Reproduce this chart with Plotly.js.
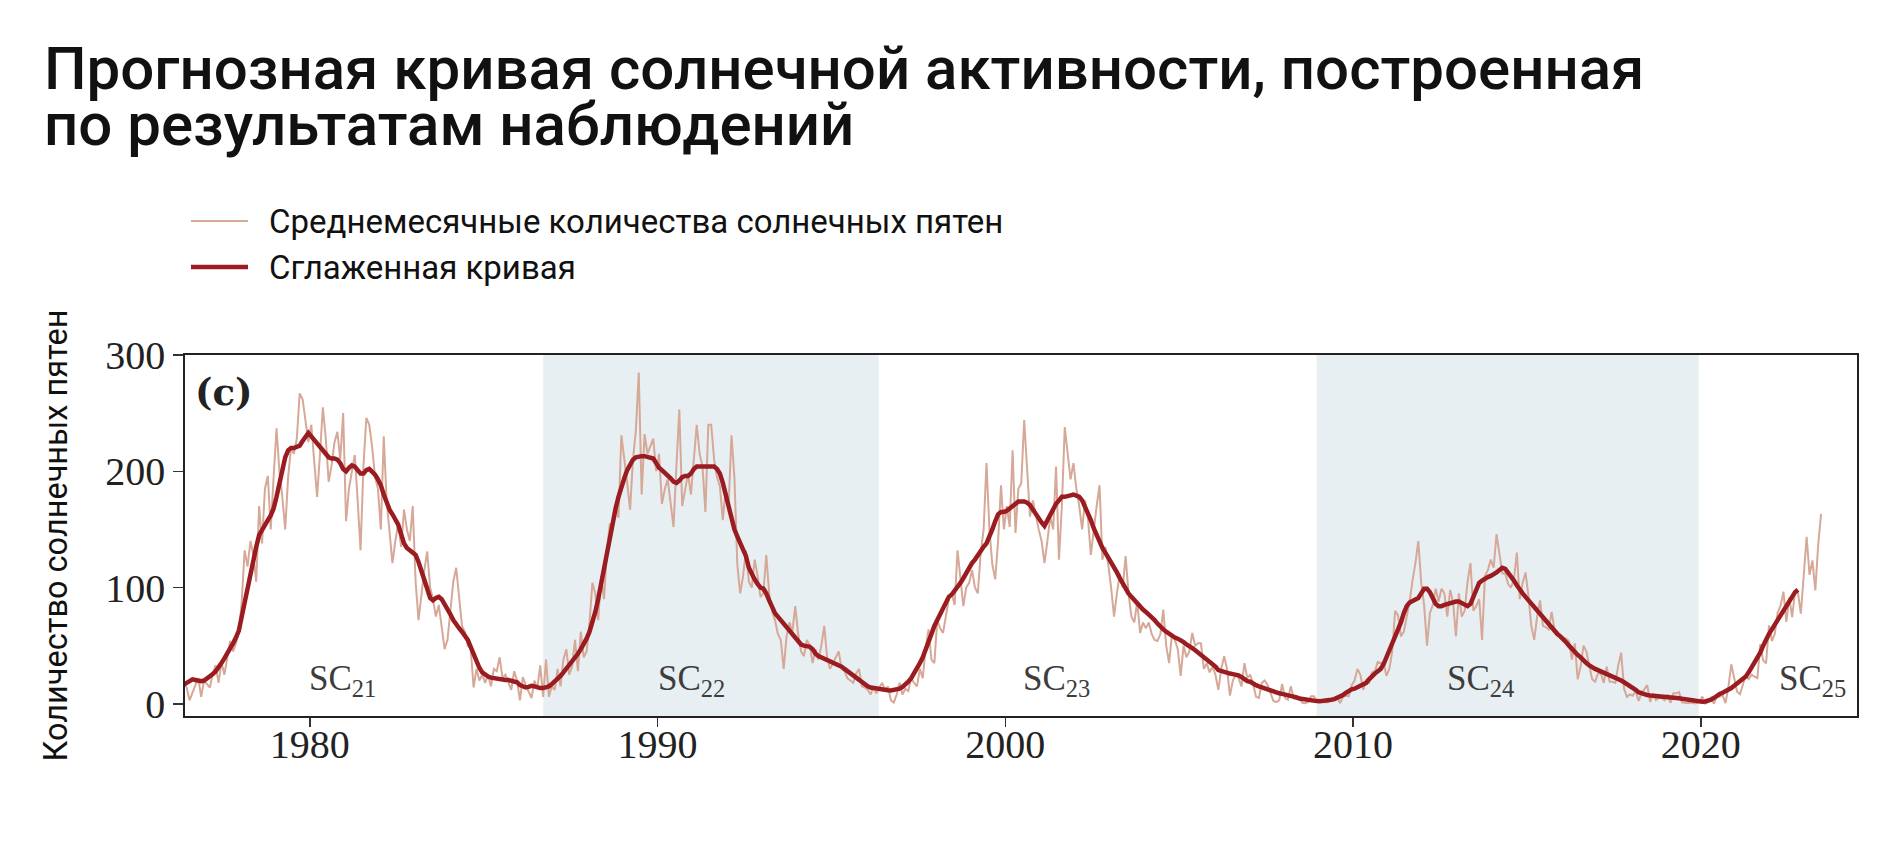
<!DOCTYPE html>
<html>
<head>
<meta charset="utf-8">
<script src="https://cdn.plot.ly/plotly-3.0.1.min.js"></script>
<style>html,body{margin:0;padding:0;background:#fff;}#chart{width:1877px;height:850px;}</style>
</head>
<body>
<div id="chart"></div>
<script>
// Monthly mean sunspot numbers, Jan 1976 onwards (one row per year)
const monthly1976_1985 = [
  5, 12, 28, 30, 18, 14, 3, 10, 16, 22, 6, 20,
  17, 14, 26, 33, 18, 36, 25, 38, 54, 45, 52, 62,
  88, 132, 118, 140, 128, 105, 170, 138, 185, 196, 150, 195,
  237, 200, 178, 150, 195, 220, 215, 228, 267, 262, 245, 225,
  240, 210, 178, 215, 255, 228, 191, 205, 225, 234, 210, 250,
  157, 185, 200, 214, 175, 132, 205, 246, 240, 221, 195, 185,
  150, 230, 175, 150, 121, 140, 155, 135, 167, 150, 140, 170,
  105, 72, 95, 115, 131, 100, 90, 75, 85, 65, 47, 55,
  80, 105, 117, 90, 67, 62, 50, 48, 14, 30, 20, 25,
  18, 25, 15, 30, 28, 40, 22, 25, 18, 12, 28, 20
];
const monthly1986_1995 = [
  3, 23, 16, 10, 5, 20, 13, 33, 6, 38, 6, 15,
  12, 30, 15, 38, 47, 25, 32, 55, 28, 62, 40, 45,
  70, 104, 95, 72, 110, 90, 130, 155, 150, 170, 160, 231,
  212, 190, 167, 210, 235, 285, 180, 232, 215, 221, 228, 200,
  215, 172, 185, 193, 170, 152, 205, 253, 170, 185, 198, 180,
  210, 240, 215, 204, 165, 240, 240, 210, 195, 187, 158, 185,
  170, 231, 195, 120, 95, 110, 132, 105, 100, 124, 110, 92,
  95, 128, 95, 80, 72, 60, 55, 30, 58, 70, 62, 84,
  60, 45, 41, 55, 50, 35, 47, 38, 50, 67, 40, 30,
  35, 40, 45, 30, 28, 22, 20, 18, 26, 30, 15, 14
];
const monthly1996_2005 = [
  12, 8, 14, 9, 14, 18, 12, 15, 3, 1, 8, 18,
  8, 13, 11, 22, 18, 15, 30, 22, 48, 64, 38, 35,
  72, 65, 61, 75, 90, 95, 85, 132, 110, 84, 100, 104,
  115, 100, 95, 130, 150, 207, 150, 120, 107, 140, 188, 150,
  170, 152, 218, 147, 185, 190, 244, 200, 161, 175, 161, 150,
  140, 121, 140, 161, 150, 204, 124, 170, 238, 215, 193, 207,
  185, 170, 150, 175, 160, 128, 150, 170, 188, 124, 135, 120,
  100, 75, 95, 112, 100, 127, 95, 75, 70, 88, 61, 70,
  65, 70, 60, 55, 54, 60, 81, 50, 35, 60, 55, 47,
  24, 50, 40, 45, 61, 50, 52, 52, 30, 35, 27, 32
];
const monthly2006_2015 = [
  25, 12, 30, 41, 30, 7, 20, 25, 22, 15, 35, 22,
  25, 17, 6, 5, 18, 20, 16, 10, 2.5, 1.5, 3, 17,
  5, 3.5, 15, 4.5, 4, 4.5, 0.8, 0.5, 1.5, 6.5, 6.5, 1.5,
  2.5, 2.2, 1.2, 1.5, 4, 4.5, 5.5, 0.5, 6, 7, 6.5, 16,
  20, 30, 25, 12, 20, 18, 27, 28, 36, 35, 36, 24,
  30, 45, 80, 76, 58, 62, 75, 88, 106, 121, 140, 104,
  85, 50, 78, 85, 99, 88, 99, 95, 75, 98, 87, 58,
  95, 75, 80, 105, 121, 80, 84, 90, 55, 110, 115, 124,
  117, 146, 129, 112, 112, 103, 100, 107, 130, 90, 104, 113,
  93, 67, 55, 75, 89, 67, 66, 64, 79, 64, 62, 58
];
const monthly2016_2023 = [
  57, 56, 54, 38, 52, 21, 32, 50, 45, 33, 21, 19,
  26, 26, 18, 32, 19, 19, 18, 33, 44, 13, 6, 8,
  7, 11, 2.5, 9, 13, 16, 1.6, 9, 3.3, 5, 5, 3,
  8, 0.8, 9, 9, 10, 1.2, 0.9, 0.5, 1.1, 0.4, 0.5, 1.5,
  6.2, 0.2, 1.5, 5.2, 0.2, 5.8, 6.1, 7.5, 0.6, 14.4, 34.0, 21.8,
  10.4, 8.2, 17.2, 24.5, 21.2, 25.0, 23.4, 22.0, 51.3, 37.4, 34.8, 67.5,
  54.0, 59.9, 78.5, 84.1, 96.5, 70.5, 91.4, 74.6, 96.4, 95.5, 77.6, 113.1,
  143.6, 110.9, 123.3, 97.6, 137.4, 163.4
];

// 13-month smoothed sunspot number, Jan 1976 onwards
const smoothed1976_1985 = [
  13, 13, 13, 15, 17, 18, 19.5, 21, 20.5, 20, 19.5, 20,
  21.5, 23.5, 25.5, 28, 31, 35, 39, 43, 47, 52, 57, 63,
  75, 88, 100, 112, 124, 135, 145, 150, 154, 158, 162, 168,
  178, 190, 202, 212, 218, 220, 220, 221, 222, 226, 230, 233,
  230, 227, 224, 220, 217, 214, 212, 211, 211, 210, 207, 202,
  200, 203, 205, 204, 201, 198, 198, 201, 202, 200, 197, 193,
  188, 180, 172, 167, 163, 159, 154, 146, 138, 134, 132, 131,
  128, 122, 115, 108, 99, 91, 89, 91, 92, 90, 86, 82,
  77, 72, 68, 65, 62, 59, 55, 49, 43, 36, 31, 27,
  25, 23.5, 22.5, 22, 21.5, 21, 21, 20.5, 20.5, 20, 19.5, 18.5
];
const smoothed1986_1995 = [
  16, 14.5, 14, 14.5, 15.5, 15, 14, 13.5, 13.5, 14, 15, 17,
  19, 21, 24, 27, 30, 33, 36, 39, 43, 47, 51, 56,
  62, 70, 79, 90, 103, 118, 132, 146, 158, 168, 178, 187,
  194, 201, 206, 210, 212, 213, 213, 213, 212, 212, 211, 207,
  203, 201, 199, 197, 194, 191, 190, 192, 195, 196, 196, 198,
  202, 204, 204, 204, 204, 204, 204, 204, 202, 198, 190, 180,
  172, 160, 150, 144, 139, 134, 127, 117, 111, 107, 103, 100,
  99, 95, 89, 83, 78, 75, 72, 69, 66, 63, 60, 57,
  53, 51, 50, 49.5, 49, 47, 43, 41, 40, 39, 38, 37,
  36, 35, 33, 32, 30, 28, 26, 24, 22, 20, 18, 16
];
const smoothed1996_2005 = [
  15, 14, 13.5, 13, 12.5, 12, 12, 11.7, 11.5, 12, 12.5, 13,
  14.5, 16.5, 19, 22, 26, 30, 35, 40, 46, 53, 60, 67,
  72, 78, 84, 89, 92, 94, 97, 101, 104, 108, 113, 118,
  121, 124, 128, 132, 135, 138, 143, 150, 157, 163, 165, 165,
  166, 168, 170, 173, 174, 174, 174, 173, 171, 167, 163, 160,
  156, 153, 158, 164, 168, 172, 175, 178, 178, 179, 180, 180,
  179, 178, 175, 170, 165, 158, 151, 145, 139, 134, 130, 126,
  122, 117, 113, 108, 103, 98, 95, 92, 89, 87, 84, 81,
  79, 77, 75, 72, 69, 66, 64, 62, 60, 58, 57, 56,
  55, 53, 51, 50, 48, 46, 44, 43, 41, 39, 37, 35
];
const smoothed2006_2015 = [
  32, 29, 28, 27, 26.5, 26, 25.5, 25, 24.5, 23, 21, 19.5,
  19, 17, 16, 15, 14, 13, 12, 11, 10, 9.5, 9, 8.5,
  8, 7.5, 7, 6.5, 5.5, 4.5, 4, 3.5, 3, 2.8, 2.5, 2.3,
  2.2, 2.3, 2.5, 3, 3.5, 4, 5, 6, 7.5, 9.5, 11.5, 12.5,
  13, 14, 15, 16, 18, 21, 24, 26, 28, 30, 34, 40,
  46, 51, 56, 62, 70, 78, 84, 87, 88, 89, 91, 95,
  99, 99, 96, 91, 86, 84, 84, 85, 86, 87, 88, 88,
  88, 87, 85, 84, 86, 92, 99, 104, 106, 108, 109, 110,
  111, 113, 115, 117, 116, 113, 110, 106, 102, 98, 95, 92,
  89, 86, 83, 80, 77, 74, 71, 68, 66, 63, 60, 58
];
const smoothed2016_2022 = [
  56, 53, 50, 47, 45, 42, 40, 37, 35, 33, 31, 30,
  29, 28, 27, 25.5, 24, 23, 22, 21, 20, 18.5, 17, 16,
  14, 12, 10, 9, 8, 7.5, 7.2, 7, 6.9, 6.8, 6.6, 6.4,
  6.5, 6.2, 5.8, 5.2, 4.8, 4.3, 3.9, 3.5, 3, 2.5, 2, 1.8,
  1.8, 2, 2.5, 3.5, 5, 7, 8.5, 9.5, 10.5, 12, 13.5, 15.5,
  17.5, 19.5, 21.5, 23.5, 27, 31, 35, 39, 44, 50, 56, 60,
  64, 68, 72, 76, 80, 84, 88, 92, 96, 98
];

const startYear = 1976;
// Solar cycles (shaded spans) and labels
const shadedCycles = [[1986.71, 1996.36], [2008.95, 2019.94]];
const cycleLabels = ['SC<sub>21</sub>', 'SC<sub>22</sub>', 'SC<sub>23</sub>', 'SC<sub>24</sub>', 'SC<sub>25</sub>'];
const cycleLabelYears = [1980.95, 1990.97, 2001.46, 2013.67, 2023.2];
const cycleLabelLevel = 20;
const xTickYears = [1980, 1990, 2000, 2010, 2020];
const yTickValues = [0, 100, 200, 300];

const titleLine1 = 'Прогнозная кривая солнечной активности, построенная';
const titleLine2 = 'по результатам наблюдений';
const legendNames = ['Среднемесячные количества солнечных пятен', 'Сглаженная кривая'];
const yTitle = 'Количество солнечных пятен';

const monthly = [].concat(monthly1976_1985, monthly1986_1995, monthly1996_2005, monthly2006_2015, monthly2016_2023);
const smoothed = [].concat(smoothed1976_1985, smoothed1986_1995, smoothed1996_2005, smoothed2006_2015, smoothed2016_2022);
const monthTime = (i) => startYear + (i + 0.5) / 12;

const noisyColor = '#d6a898';
const smoothColor = '#9b1c20';

const traces = [
  {x: monthly.map((v, i) => monthTime(i)), y: monthly, type: 'scatter', mode: 'lines',
   name: legendNames[0], line: {color: noisyColor, width: 2}, showlegend: false, hoverinfo: 'x+y'},
  {x: smoothed.map((v, i) => monthTime(i)), y: smoothed, type: 'scatter', mode: 'lines',
   name: legendNames[1], line: {color: smoothColor, width: 4.5}, showlegend: false, hoverinfo: 'x+y'}
];

const W = 1877, H = 850;
const PL = 185, PR = 20, PT = 355, PB = 134;
const PW = W - PL - PR, PH = H - PT - PB;
const px = (xpix) => (xpix - PL) / PW;
const py = (ypix) => (H - PB - ypix) / PH;

const shapes = shadedCycles.map(s => ({type: 'rect', xref: 'x', yref: 'paper', x0: s[0], x1: s[1], y0: 0, y1: 1,
  fillcolor: '#e8eff3', line: {width: 0}, layer: 'below'}));
// custom legend samples
const legendY = [221, 267];
shapes.push({type: 'line', xref: 'paper', yref: 'paper', x0: px(191), x1: px(248),
  y0: py(legendY[0]), y1: py(legendY[0]), line: {color: noisyColor, width: 2}});
shapes.push({type: 'line', xref: 'paper', yref: 'paper', x0: px(191), x1: px(248),
  y0: py(legendY[1]), y1: py(legendY[1]), line: {color: smoothColor, width: 4.5}});

const annotations = cycleLabels.map((t, i) => ({x: cycleLabelYears[i], y: cycleLabelLevel, xref: 'x', yref: 'y',
  text: t, showarrow: false, xanchor: 'center', yanchor: 'middle',
  font: {family: 'Liberation Serif', size: 35, color: '#3d3d3d'}}));
annotations.push({x: 1976.65, y: 268, xref: 'x', yref: 'y', text: '<b>(c)</b>', showarrow: false,
  xanchor: 'left', yanchor: 'middle', font: {family: 'DejaVu Serif', size: 37, color: '#222'}});
legendNames.forEach((n, i) => annotations.push({xref: 'paper', yref: 'paper', x: px(267),
  y: py(legendY[i]), text: n, showarrow: false, xanchor: 'left', yanchor: 'middle',
  font: {family: 'Roboto', size: 33, color: '#111'}}));
annotations.push({xref: 'paper', yref: 'paper', x: px(42), y: py(87),
  text: titleLine2, showarrow: false, xanchor: 'left', yanchor: 'top',
  font: {family: 'Roboto', size: 60, weight: 500, color: '#111'}});

const tickFont = {family: 'Liberation Serif', size: 40, color: '#222'};
const layout = {
  width: W, height: H,
  margin: {l: PL, r: PR, t: PT, b: PB},
  paper_bgcolor: '#fff', plot_bgcolor: '#fff',
  title: {text: titleLine1, x: 44 / W, xanchor: 'left', xref: 'container', y: 1 - 47 / H, yanchor: 'top', yref: 'container',
    font: {family: 'Roboto', size: 60, weight: 500, color: '#111'}},
  xaxis: {range: [1976.41, 2024.49], tickvals: xTickYears, ticktext: xTickYears.map(String), ticks: 'outside',
    ticklen: 9, tickwidth: 1.5, tickcolor: '#333', showline: true, linecolor: '#222', linewidth: 1.8, mirror: true,
    showgrid: false, zeroline: false, tickfont: tickFont, ticklabelstandoff: -17},
  yaxis: {range: [-10.5, 300], tickvals: yTickValues, ticks: 'outside', ticklen: 10, tickwidth: 1.5, tickcolor: '#333',
    showline: true, linecolor: '#222', linewidth: 1.8, mirror: true, showgrid: false, zeroline: false, tickfont: tickFont,
    title: {text: yTitle, font: {family: 'Roboto', size: 32.5, color: '#111'}, standoff: 28}},
  shapes: shapes, annotations: annotations, showlegend: false
};
Plotly.newPlot('chart', traces, layout, {displayModeBar: false, staticPlot: true});
</script>
</body>
</html>
